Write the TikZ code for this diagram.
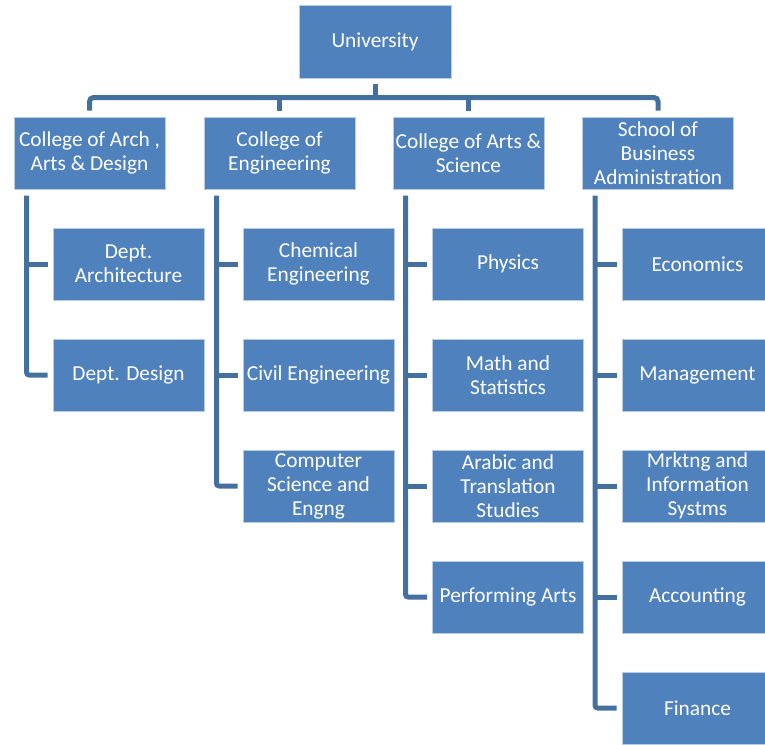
\documentclass[tikz,border=0pt]{standalone}
\usepackage{fontspec}
\setmainfont{Carlito}
\usetikzlibrary{positioning,calc}

\definecolor{boxblue}{HTML}{4F81BD}
\definecolor{linkblue}{HTML}{44709F}
\definecolor{edgeblue}{HTML}{B8CCE4}

\begin{document}
\begin{tikzpicture}[
  x=0.75pt, y=-0.75pt,
  font=\fontsize{16}{18}\selectfont,
  unit/.style={rectangle, fill=boxblue, draw=edgeblue, line width=0.75pt,
    text=white, align=center, inner sep=0pt,
    minimum width=113.25pt, minimum height=54pt},
  link/.style={draw=linkblue, line width=3.75pt}
]
\useasboundingbox (0,0) rectangle (765,744);

% top and colleges
\node[unit, minimum width=114pt, minimum height=54.75pt] (uni) at (375,41.5) {University};
\node[unit] (col1) at (89.5,153) {College of Arch ,\\Arts \& Design};
\node[unit] (col2) at (279.5,153) {College of\\Engineering};
\node[unit] (col3) at (468.5,153) {College of Arts \&\\Science};
\node[unit] (col4) at (658,153) {School of\\Business\\Administration};

% departments
\node[unit] (d1-1) at (128.5,264) {Dept.\\Architecture};
\node[unit] (d1-2) at (128.5,375) {Dept. Design};

\node[unit] (d2-1) at (318.5,264) {Chemical\\Engineering};
\node[unit] (d2-2) at (318.5,375) {Civil Engineering};
\node[unit] (d2-3) at (318.5,486) {Computer\\Science and\\Engng};

\node[unit] (d3-1) at (508,264) {Physics};
\node[unit] (d3-2) at (508,375) {Math and\\Statistics};
\node[unit] (d3-3) at (508,486) {Arabic and\\Translation\\Studies};
\node[unit] (d3-4) at (508,597) {Performing Arts};

\node[unit] (d4-1) at (697.5,264) {Economics};
\node[unit] (d4-2) at (697.5,375) {Management};
\node[unit] (d4-3) at (697.5,486) {Mrktng and\\Information\\Systms};
\node[unit] (d4-4) at (697.5,597) {Accounting};
\node[unit] (d4-5) at (697.5,708) {Finance};

% bus under the university
\coordinate (bus) at (375,97.5);
\draw[link, shorten <=3.75pt] (uni.south) -- (bus);
\draw[link, rounded corners=3pt, shorten <=4.5pt, shorten >=4.5pt]
  (col1.north) |- (bus) -| (col4.north);
\foreach \c in {col2,col3} {
  \draw[link, shorten <=4.5pt] (\c.north) -- (\c.north |- bus);
}

% spines down to the departments
\foreach \c/\n in {1/2,2/3,3/4,4/5} {
  \coordinate (sp\c) at ([xshift=9.75pt]col\c.south west);
  \draw[link, rounded corners=2pt, shorten <=4.5pt, shorten >=3.75pt]
    (sp\c) |- (d\c-\n.west);
}
\foreach \c/\r in {1/1,2/1,2/2,3/1,3/2,3/3,4/1,4/2,4/3,4/4} {
  \draw[link, shorten >=3.75pt] (d\c-\r.west -| sp\c) -- (d\c-\r.west);
}

\end{tikzpicture}
\end{document}
